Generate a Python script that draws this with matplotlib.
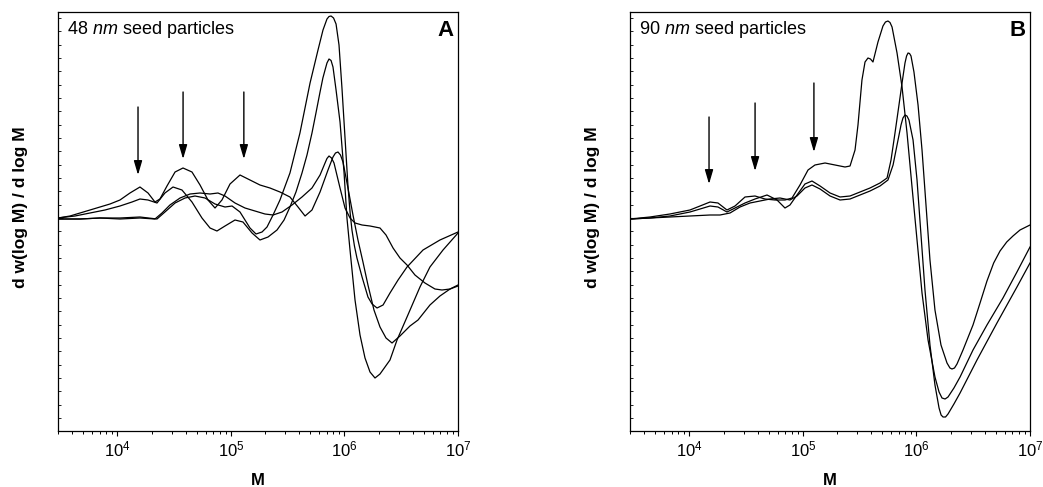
import numpy as np
import matplotlib
matplotlib.use('Agg')
import matplotlib.pyplot as plt
from matplotlib.ticker import FixedLocator, MultipleLocator, LogLocator, LogFormatterSciNotation, NullFormatter

plt.rcParams['font.family'] = ['Liberation Sans', 'DejaVu Sans']
plt.rcParams['mathtext.fontset'] = 'custom'
plt.rcParams['mathtext.rm'] = 'Liberation Sans'
plt.rcParams['mathtext.it'] = 'Liberation Sans:italic'
plt.rcParams['mathtext.bf'] = 'Liberation Sans:bold'

# ---------------- Panel A (48 nm seed particles) ----------------
A1_logM = [3.477, 3.671, 3.847, 4.023, 4.199, 4.349, 4.419, 4.508, 4.596, 4.684, 4.772, 4.860, 4.948,
           5.010, 5.080, 5.168, 5.221, 5.274, 5.318, 5.371, 5.432, 5.520, 5.608, 5.697, 5.767, 5.811,
           5.846, 5.864, 5.882, 5.904, 5.926, 5.952, 5.978, 6.005, 6.031, 6.050, 6.066, 6.088, 6.110,
           6.155, 6.207, 6.243, 6.287, 6.340, 6.401, 6.472, 6.551, 6.692, 6.841, 7.000]
A1_y = [-1, -1, 0, 0, 1, -1, 6, 15, 20, 22, 20, 14, 11,
        12, 6, -10, -16, -14, -9, 3, 18, 45, 85, 135, 168, 188,
        199, 201.5, 202, 200, 194, 173, 130, 80, 32, 5, -12, -28, -40,
        -59, -79, -86, -90, -87, -75, -62, -49, -32, -22, -14]

A2_logM = [3.477, 3.627, 3.759, 3.891, 4.023, 4.129, 4.199, 4.270, 4.349, 4.419, 4.490, 4.569, 4.657,
           4.745, 4.816, 4.877, 4.948, 5.036, 5.106, 5.186, 5.256, 5.327, 5.406, 5.468, 5.520, 5.573,
           5.626, 5.670, 5.714, 5.749, 5.785, 5.810, 5.829, 5.846, 5.864, 5.882, 5.899, 5.926, 5.961,
           5.996, 6.022, 6.049, 6.093, 6.137, 6.181, 6.225, 6.269, 6.313, 6.401, 6.463, 6.551, 6.665,
           6.753, 6.868, 7.000]
A2_y = [0, 2, 5, 8, 12, 16, 19, 18, 15, 25, 31, 28, 16,
        0, -10, -13, -8, -2, -4, -15, -22, -19, -12, -2, 11, 26,
        45, 63, 85, 105, 126, 140, 148, 155, 159, 157.5, 151, 128, 96,
        46, 0, -32, -82, -117, -140, -154, -160, -156, -142, -122, -99, -69,
        -49, -32, -15]

A3_logM = [3.477, 3.583, 3.671, 3.759, 3.847, 3.935, 4.023, 4.111, 4.199, 4.270, 4.331, 4.375, 4.437,
           4.508, 4.578, 4.657, 4.728, 4.798, 4.860, 4.921, 4.992, 5.080, 5.168, 5.256, 5.344, 5.432,
           5.520, 5.591, 5.653, 5.714, 5.785, 5.855, 5.899, 5.921, 5.943, 5.965, 5.987, 6.031, 6.075,
           6.119, 6.163, 6.207, 6.260, 6.313, 6.366, 6.419, 6.489, 6.577, 6.648, 6.753, 6.841, 6.930,
           7.000]
A3_y = [0, 2, 5, 8, 11, 14, 18, 25, 31, 25, 16, 19, 32,
        46, 50, 46, 33, 18, 10, 18, 34, 43, 38, 33, 30, 26,
        21, 11, 2, 8, 26, 48, 61, 65, 66, 63, 56, 30, 3,
        -22, -44, -67, -92, -109, -120, -125, -118, -108, -102, -87, -78, -71,
        -67]

A4_logM = [3.477, 3.671, 3.847, 4.023, 4.199, 4.331, 4.393, 4.463, 4.552, 4.640, 4.728, 4.816, 4.886,
           4.948, 5.036, 5.124, 5.212, 5.300, 5.371, 5.450, 5.538, 5.626, 5.714, 5.785, 5.829, 5.846,
           5.864, 5.886, 5.908, 5.961, 6.005, 6.049, 6.093, 6.155, 6.225, 6.313, 6.366, 6.428, 6.489,
           6.551, 6.621, 6.709, 6.797, 6.859, 6.930, 7.000]
A4_y = [-1, -1, 0, -1, 0, -1, 5, 13, 20, 24, 25, 24, 25,
        22, 15, 10, 7, 4, 3, 6, 13, 21, 30, 43, 55, 59.5,
        62, 60, 55, 30, 10, 0, -5, -7, -8, -10, -17, -30, -40,
        -47, -57, -65, -71, -72, -71, -68]

# ---------------- Panel B (90 nm seed particles) ----------------
B1_logM = [3.477, 3.653, 3.829, 4.005, 4.094, 4.182, 4.252, 4.331, 4.402, 4.490, 4.578, 4.666, 4.754,
           4.842, 4.904, 4.974, 5.045, 5.106, 5.195, 5.283, 5.371, 5.415, 5.459, 5.485, 5.520, 5.547,
           5.573, 5.595, 5.617, 5.661, 5.705, 5.727, 5.749, 5.767, 5.785, 5.829, 5.873, 5.917, 5.961,
           6.005, 6.049, 6.102, 6.163, 6.199, 6.225, 6.252, 6.278, 6.330, 6.384, 6.498, 6.621, 6.762,
           6.885, 7.000]
B1_y = [-1, 1, 4, 8, 12, 16, 15, 8, 12, 21, 22, 19, 18,
        18, 20, 33, 48, 53, 55, 53, 51, 52, 68, 93, 138, 156,
        160, 159, 156, 176, 192, 196, 197, 195.5, 191, 165, 131, 85, 31,
        -22, -75, -122, -159, -174, -180, -181, -179, -170, -159, -132, -107, -80,
        -54, -29]

B2_logM = [3.477, 3.653, 3.829, 4.005, 4.094, 4.182, 4.252, 4.331, 4.402, 4.490, 4.578, 4.684, 4.772,
           4.842, 4.886, 4.948, 5.018, 5.080, 5.151, 5.239, 5.327, 5.415, 5.503, 5.591, 5.679, 5.741,
           5.776, 5.811, 5.846, 5.873, 5.899, 5.913, 5.926, 5.939, 5.952, 5.978, 6.014, 6.049, 6.084,
           6.119, 6.163, 6.216, 6.269, 6.295, 6.313, 6.335, 6.357, 6.410, 6.498, 6.560, 6.621, 6.680,
           6.736, 6.795, 6.850, 6.912, 7.000]
B2_y = [-1, 0, 2, 6, 9, 12, 11, 6, 10, 15, 19, 23, 18,
        10, 13, 23, 34, 37, 32, 25, 21, 22, 26, 30, 35, 40,
        58, 85, 113, 135, 155, 162, 165, 164.5, 162, 146, 113, 68, 13,
        -42, -92, -127, -145, -150, -151, -150, -146, -132, -107, -85, -63, -45,
        -33, -24, -18, -12, -7]

B3_logM = [3.477, 3.653, 3.829, 4.005, 4.182, 4.270, 4.358, 4.446, 4.534, 4.622, 4.710, 4.798, 4.886,
           4.948, 5.018, 5.080, 5.151, 5.239, 5.327, 5.415, 5.503, 5.591, 5.679, 5.749, 5.794, 5.829,
           5.864, 5.881, 5.899, 5.916, 5.934, 5.970, 6.005, 6.040, 6.075, 6.119, 6.163, 6.199, 6.217,
           6.234, 6.256, 6.278, 6.330, 6.384, 6.533, 6.709, 6.885, 7.000]
B3_y = [-1, 0, 1, 2, 3, 3, 5, 11, 15, 17, 19, 20, 18,
        22, 30, 33, 29, 22, 18, 19, 23, 27, 32, 38, 53, 73,
        93, 100, 103, 102, 98, 78, 38, -17, -72, -127, -167, -190, -197,
        -199, -199, -196, -186, -175, -142, -105, -69, -45]

# arrows marking the oligomer peaks: (M, tail height, tip height)
arrows_A = [(1.52e4, 111, 43), (3.79e4, 126, 59), (1.30e5, 126, 59)]
arrows_B = [(1.49e4, 101, 34), (3.79e4, 115, 47), (1.25e5, 135, 66)]

panels = [
    dict(curves=[(A1_logM, A1_y), (A2_logM, A2_y), (A3_logM, A3_y), (A4_logM, A4_y)],
         arrows=arrows_A, size='48', letter='A', left=58, ylab_x=21),
    dict(curves=[(B1_logM, B1_y), (B2_logM, B2_y), (B3_logM, B3_y)],
         arrows=arrows_B, size='90', letter='B', left=630, ylab_x=592),
]

W, H = 1043, 487
fig = plt.figure(figsize=(W / 100, H / 100), dpi=100)

for p in panels:
    ax = fig.add_axes([p['left'] / W, (H - 430.7) / H, 400 / W, 419 / H])
    for lm, yy in p['curves']:
        ax.plot(10 ** np.array(lm), yy, color='black', lw=0.9, solid_joinstyle='round')
    ax.set_xscale('log')
    ax.set_xlim(3e3, 1e7)
    ax.set_ylim(-212.7, 206.3)
    ax.xaxis.set_major_locator(LogLocator(base=10, numticks=10))
    ax.xaxis.set_major_formatter(LogFormatterSciNotation())
    ax.xaxis.set_minor_locator(LogLocator(base=10, subs=np.arange(2, 10), numticks=20))
    ax.xaxis.set_minor_formatter(NullFormatter())
    ax.yaxis.set_major_locator(FixedLocator([0]))
    ax.yaxis.set_minor_locator(MultipleLocator(13.33))
    ax.set_yticklabels([])
    ax.tick_params(axis='x', which='major', direction='out', length=3.8, width=0.8,
                   labelsize=12, pad=2.5)
    ax.tick_params(axis='x', which='minor', direction='out', length=2.2, width=0.7)
    ax.tick_params(axis='y', which='major', direction='in', length=3.5, width=0.8)
    ax.tick_params(axis='y', which='minor', direction='in', length=2.0, width=0.6)
    for s in ax.spines.values():
        s.set_linewidth(0.9)
    for m, yt, yh in p['arrows']:
        ax.annotate('', xy=(m, yh), xytext=(m, yt),
                    arrowprops=dict(arrowstyle='-|>,head_length=0.85,head_width=0.25',
                                    color='black', lw=1.0, shrinkA=0, shrinkB=0,
                                    mutation_scale=10))
    ax.text(0.022, 0.946, p['size'] + r' $\mathit{nm}$ seed particles', transform=ax.transAxes,
            fontsize=13, ha='left', va='baseline')
    ax.text(0.99, 0.942, p['letter'], transform=ax.transAxes, fontsize=16, fontweight='bold',
            ha='right', va='baseline')
    fig.text((p['left'] + 200) / W, (H - 485) / H, 'M', fontsize=12, fontweight='bold',
             ha='center', va='baseline')
    fig.text(p['ylab_x'] / W, (H - 207) / H, 'd w(log M) / d log M', fontsize=12.5,
             fontweight='bold', rotation=90, ha='center', va='center')

fig.savefig('out.png', dpi=100)
